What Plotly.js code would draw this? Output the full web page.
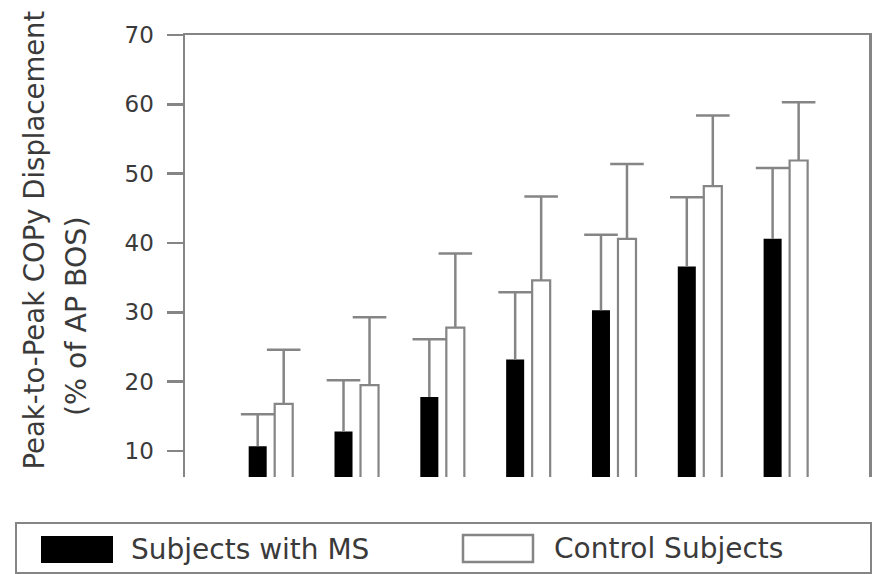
<!DOCTYPE html>
<html>
<head>
<meta charset="utf-8">
<script src="https://cdn.plot.ly/plotly-3.0.1.min.js"></script>
<style>html,body{margin:0;padding:0;background:#fff;}#chart{width:879px;height:574px;}</style>
</head>
<body>
<div id="chart"></div>
<script>
// ---- data ----
const groups = [1, 2, 3, 4, 5, 6, 7];
const msMean = [10.7, 12.8, 17.8, 23.2, 30.3, 36.6, 40.6];
const msSD = [4.6, 7.4, 8.3, 9.7, 10.9, 10.0, 10.2];
const ctrlMean = [16.8, 19.5, 27.8, 34.6, 40.6, 48.2, 51.9];
const ctrlSD = [7.8, 9.8, 10.7, 12.1, 10.8, 10.2, 8.4];
const yTicks = [10, 20, 30, 40, 50, 60, 70];
const seriesNames = ["Subjects with MS", "Control Subjects"];
const yTitleLines = ["Peak-to-Peak COPy Displacement", "(% of AP BOS)"];

// ---- layout helpers ----
const W = 879, H = 574;
const M = {l: 185, r: 10, t: 35, b: 97};
const pw = W - M.l - M.r, ph = H - M.t - M.b;
const px = x => (x - M.l) / pw;
const py = y => (H - M.b - y) / ph;
const GRAY = '#858585';
const TXT = '#3a3a3a';
const FONT = 'DejaVu Sans, Arial, sans-serif';

// bar geometry (in x-axis units)
const BAR_W = 0.21;
const MS_OFF = -0.258;
const CTRL_OFF = 0.045;

const zeros = groups.map(() => 0);
const capTop = (m, s) => m.map((v, i) => v + s[i]);

const traces = [
  {
    type: 'bar', name: seriesNames[0], x: groups, y: msMean,
    offset: MS_OFF, width: BAR_W,
    marker: {color: '#000000', line: {width: 0}},
    error_y: {type: 'data', array: msSD, arrayminus: zeros, symmetric: false,
              color: GRAY, thickness: 2.5, width: 0},
    showlegend: false, hoverinfo: 'skip'
  },
  {
    type: 'bar', name: seriesNames[1], x: groups, y: ctrlMean,
    offset: CTRL_OFF, width: BAR_W,
    marker: {color: '#ffffff', line: {width: 2.2, color: GRAY}},
    error_y: {type: 'data', array: ctrlSD, arrayminus: zeros, symmetric: false,
              color: GRAY, thickness: 2.5, width: 0},
    showlegend: false, hoverinfo: 'skip'
  },
  // error-bar caps (hats) at mean + SD, centred on each bar
  {
    type: 'scatter', mode: 'markers', name: seriesNames[0] + ' SD',
    x: groups.map(g => g + MS_OFF + BAR_W / 2), y: capTop(msMean, msSD),
    marker: {symbol: 'line-ew', size: 24, line: {width: 2.5, color: GRAY}},
    showlegend: false, hoverinfo: 'skip', cliponaxis: false
  },
  {
    type: 'scatter', mode: 'markers', name: seriesNames[1] + ' SD',
    x: groups.map(g => g + CTRL_OFF + BAR_W / 2), y: capTop(ctrlMean, ctrlSD),
    marker: {symbol: 'line-ew', size: 24, line: {width: 2.5, color: GRAY}},
    showlegend: false, hoverinfo: 'skip', cliponaxis: false
  }
];

const shapes = [
  {type: 'rect', xref: 'paper', yref: 'paper', x0: px(16), x1: px(871), y0: py(573), y1: py(523),
   line: {color: GRAY, width: 2}, fillcolor: 'rgba(0,0,0,0)'},
  {type: 'rect', xref: 'paper', yref: 'paper', x0: px(41), x1: px(113), y0: py(563), y1: py(536),
   line: {width: 0}, fillcolor: '#000000'},
  {type: 'rect', xref: 'paper', yref: 'paper', x0: px(463), x1: px(533), y0: py(562), y1: py(535),
   line: {color: GRAY, width: 2.5}, fillcolor: '#ffffff'}
];

const annotations = [
  {xref: 'paper', yref: 'paper', x: px(129), y: py(549.5), xanchor: 'left', yanchor: 'middle',
   text: seriesNames[0], showarrow: false, font: {family: FONT, size: 28, color: TXT}},
  {xref: 'paper', yref: 'paper', x: px(552), y: py(548.5), xanchor: 'left', yanchor: 'middle',
   text: seriesNames[1], showarrow: false, font: {family: FONT, size: 28, color: TXT}},
  {xref: 'paper', yref: 'paper', x: px(33.5), y: py(240), xanchor: 'center', yanchor: 'middle',
   textangle: -90, text: yTitleLines[0], showarrow: false, font: {family: FONT, size: 27.5, color: TXT}},
  {xref: 'paper', yref: 'paper', x: px(76), y: py(317), xanchor: 'center', yanchor: 'middle',
   textangle: -90, text: yTitleLines[1], showarrow: false, font: {family: FONT, size: 28.4, color: TXT}}
];

const layout = {
  width: W, height: H,
  margin: M,
  paper_bgcolor: '#ffffff', plot_bgcolor: '#ffffff',
  barmode: 'overlay',
  showlegend: false,
  xaxis: {
    range: [0, 7.97], side: 'top', showline: true, linecolor: GRAY, linewidth: 2.5,
    ticks: '', showticklabels: false, showgrid: false, zeroline: false, fixedrange: true
  },
  yaxis: {
    range: [6.25, 70], tickvals: yTicks, ticktext: yTicks.map(String),
    showline: true, mirror: true, linecolor: GRAY, linewidth: 2.5,
    ticks: 'outside', ticklen: 16, tickwidth: 2.5, tickcolor: GRAY,
    ticklabelstandoff: 8,
    tickfont: {family: FONT, size: 23, color: TXT},
    showgrid: false, zeroline: false, fixedrange: true
  },
  shapes: shapes,
  annotations: annotations
};

Plotly.newPlot('chart', traces, layout, {displayModeBar: false, staticPlot: true});
</script>
</body>
</html>
